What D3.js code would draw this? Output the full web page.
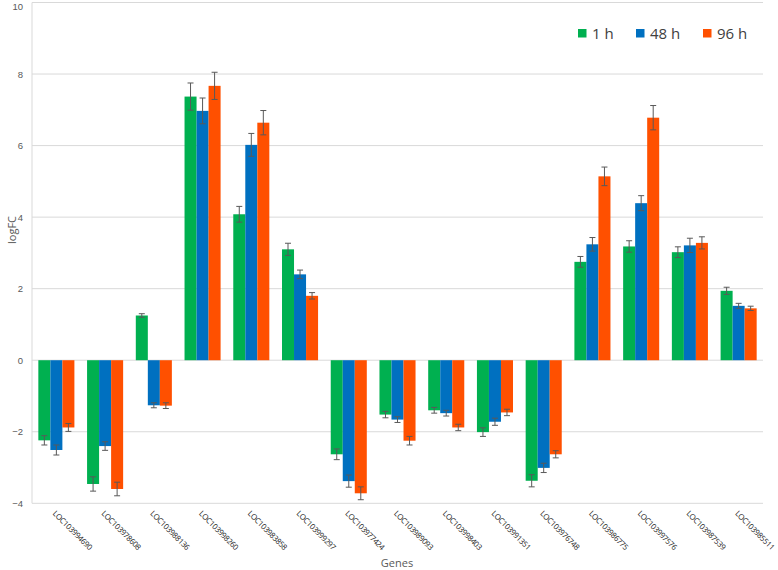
<!DOCTYPE html>
<html><head><meta charset="utf-8">
<script src="https://cdn.jsdelivr.net/npm/d3@7"></script>
<style>body{margin:0;background:#fff;}svg{display:block;font-family:"Open Sans","Liberation Sans","DejaVu Sans",sans-serif;}</style>
</head><body>
<svg id="c" width="778" height="570"></svg>
<script>
const genes = ["LOC103994690","LOC103978608","LOC103988136","LOC103998260","LOC103983858","LOC103999297","LOC103977424","LOC103989093","LOC103998403","LOC103991351","LOC103976748","LOC103986775","LOC103997576","LOC103987539","LOC103985511"];
const seriesNames = ["1 h","48 h","96 h"];
const colors = ["#00b050","#0070c0","#ff5000"];
const v1h  = [-2.24,-3.46, 1.25, 7.37, 4.08, 3.10,-2.63,-1.52,-1.40,-2.01,-3.37, 2.75, 3.18, 3.02, 1.94];
const v48h = [-2.51,-2.40,-1.26, 6.97, 6.02, 2.40,-3.38,-1.66,-1.48,-1.72,-3.01, 3.24, 4.39, 3.21, 1.52];
const v96h = [-1.88,-3.60,-1.27, 7.67, 6.64, 1.80,-3.72,-2.25,-1.88,-1.46,-2.63, 5.14, 6.78, 3.28, 1.45];
const e1h  = [0.13,0.20,0.05,0.38,0.22,0.17,0.15,0.09,0.08,0.12,0.17,0.15,0.16,0.15,0.10];
const e48h = [0.14,0.12,0.07,0.36,0.32,0.12,0.17,0.08,0.08,0.10,0.13,0.19,0.21,0.20,0.07];
const e96h = [0.11,0.19,0.08,0.38,0.34,0.09,0.18,0.12,0.09,0.09,0.10,0.26,0.34,0.17,0.06];
const yTicks = [-4,-2,0,2,4,6,8,10];

const values = [v1h, v48h, v96h];
const errs = [e1h, e48h, e96h];
const svg = d3.select("#c");
const pLeft = 32, pRight = 763, pTop = 2.5, pBottom = 503.3;
const y = d3.scaleLinear().domain([-4,10]).range([pBottom, pTop]);
const x = d3.scaleBand().domain(genes).range([pLeft, pRight]).paddingInner(0.26).paddingOuter(0.13);
const x1 = d3.scaleBand().domain(seriesNames).range([0, x.bandwidth()]);

// gridlines
svg.append("g").selectAll("line").data(yTicks).join("line")
  .attr("x1", pLeft).attr("x2", pRight)
  .attr("y1", d => y(d)).attr("y2", d => y(d))
  .attr("stroke", "#d9d9d9").attr("stroke-width", 1);
svg.append("line").attr("x1", pLeft).attr("x2", pLeft).attr("y1", y(10)).attr("y2", y(-4))
  .attr("stroke", "#d9d9d9");

// y axis labels
const yAxis = d3.axisLeft(y).tickValues(yTicks).tickSize(0).tickPadding(9);
const ya = svg.append("g").attr("transform", `translate(${pLeft},0)`).call(yAxis);
ya.select(".domain").remove();
ya.selectAll("text").attr("fill", "#595959").attr("font-size", 9.5)
  .attr("dy", d => d === 10 ? "0.75em" : "0.32em");

// bars
const rows = [];
genes.forEach((g, i) => seriesNames.forEach((s, j) => rows.push({g, s, j, v: values[j][i], e: errs[j][i]})));
svg.append("g").selectAll("rect").data(rows).join("rect")
  .attr("x", d => x(d.g) + x1(d.s))
  .attr("width", x1.bandwidth())
  .attr("y", d => y(Math.max(0, d.v)))
  .attr("height", d => Math.abs(y(d.v) - y(0)))
  .attr("fill", d => colors[d.j]);

// error bars
const eg = svg.append("g").attr("stroke", "#595959").attr("stroke-width", 1);
rows.forEach(d => {
  const cx = x(d.g) + x1(d.s) + x1.bandwidth() / 2;
  eg.append("line").attr("x1", cx).attr("x2", cx).attr("y1", y(d.v - d.e)).attr("y2", y(d.v + d.e));
  eg.append("line").attr("x1", cx - 3).attr("x2", cx + 3).attr("y1", y(d.v - d.e)).attr("y2", y(d.v - d.e));
  eg.append("line").attr("x1", cx - 3).attr("x2", cx + 3).attr("y1", y(d.v + d.e)).attr("y2", y(d.v + d.e));
});

// x labels
svg.append("g").selectAll("text").data(genes).join("text")
  .attr("transform", d => `translate(${x(d) + x.bandwidth()/2 - 4},${514}) rotate(45)`)
  .attr("font-size", 7.8).attr("fill", "#222").attr("text-anchor", "start")
  .attr("letter-spacing", -0.3)
  .text(d => d);

// axis titles
svg.append("text").attr("x", 397).attr("y", 567).attr("text-anchor", "middle")
  .attr("font-size", 11).attr("fill", "#595959").text("Genes");
svg.append("text").attr("transform", `translate(16,230) rotate(-90)`).attr("text-anchor", "middle")
  .attr("font-size", 11).attr("fill", "#595959").text("logFC");

// legend
const legX = [578, 636, 703];
const lg = svg.append("g");
seriesNames.forEach((s, j) => {
  lg.append("rect").attr("x", legX[j]).attr("y", 29).attr("width", 8.5).attr("height", 8.5).attr("fill", colors[j]);
  lg.append("text").attr("x", legX[j] + 14).attr("y", 39).attr("font-size", 15).attr("fill", "#404040").text(s);
});
</script>
</body></html>
